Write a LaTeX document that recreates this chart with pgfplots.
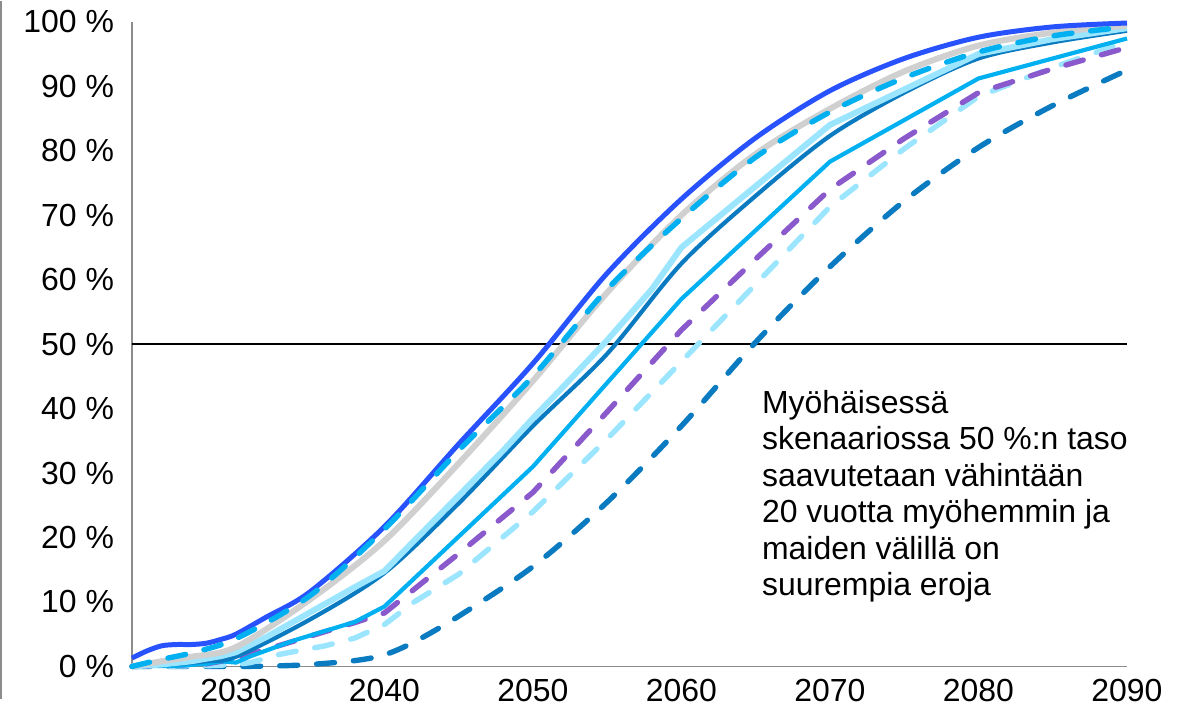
\documentclass[border=0pt]{standalone}
\usepackage{fontspec}
\setmainfont{Liberation Sans}
\usepackage{pgfplots}
\pgfplotsset{compat=1.18}
\definecolor{cBright}{HTML}{2952FF}
\definecolor{cCyan}{HTML}{00B0F0}
\definecolor{cGray}{HTML}{D0D0D0}
\definecolor{cLight}{HTML}{9BE5FF}
\definecolor{cDark}{HTML}{0A7BC0}
\definecolor{cPurple}{HTML}{8A5ACD}
\definecolor{axgray}{HTML}{8C8C8C}
\tikzset{dashline/.style={line width=2.7pt, line cap=round, dash pattern=on 9pt off 9.5pt}}
\begin{document}
\begin{tikzpicture}
\begin{axis}[
  scale only axis, width=498.5pt, height=323pt,
  xmin=2023, xmax=2090, ymin=0, ymax=100,
  axis x line=bottom, axis y line=left,
  axis line style={-, draw=axgray, line width=0.8pt},
  xtick={2030,2040,2050,2060,2070,2080,2090},
  xticklabels={2030,2040,2050,2060,2070,2080,2090},
  ytick={0,10,20,30,40,50,60,70,80,90,100},
  yticklabels={0 \%,10 \%,20 \%,30 \%,40 \%,50 \%,60 \%,70 \%,80 \%,90 \%,100 \%},
  major tick length=0pt,
  tick label style={font=\fontsize{16pt}{19pt}\selectfont, text=black},
  xticklabel style={yshift=-3pt},
  yticklabel style={xshift=-5.5pt},
  clip=false,
]
% frame line at left edge and bounding box
\draw[axgray, line width=0.8pt] (axis cs:2014.18,103.25) -- (axis cs:2014.18,-5.1);
\path (axis cs:2014.11,-6.81) rectangle (axis cs:2094.58,103.25);

% 50 % reference line
\addplot[black, line width=0.8pt] coordinates {(2023,50) (2090,50)};

% dark blue dashed
\addplot[cDark, dashline, smooth] coordinates {
(2023,0) (2030,0) (2033,0.1) (2035,0.3) (2038,0.9) (2040,1.8) (2042,3.8) (2045,7.8) (2050,15.5) (2055,25.5) (2060,37.3) (2065,50.3) (2070,62) (2075,72.2) (2080,80.5) (2085,87) (2090,92.5)};

% light blue dashed
\addplot[cLight, dashline] coordinates {
(2023,0) (2028,0.1) (2030,0.3) (2031,0.6) (2033,1.9) (2036,3.2) (2038,4.4) (2040,6.5) (2042,10) (2045,14.3) (2050,24) (2055,35.3) (2060,47.3) (2065,59.3) (2070,71.3) (2075,80.3) (2080,88.4) (2085,92.9) (2090,96.9)};

% purple dashed
\addplot[cPurple, dashline] coordinates {
(2023,0) (2025,0.1) (2028,0.4) (2030,1.2) (2033,3.3) (2036,5.4) (2038,6.8) (2040,8.3) (2045,17.5) (2050,27) (2055,39.5) (2060,52.2) (2065,63.2) (2070,74) (2075,81.9) (2080,89) (2085,92.7) (2090,96)};

% cyan solid
\addplot[cCyan, line width=2.1pt] coordinates {
(2023,0) (2026,0.1) (2028,0.4) (2029,0.8) (2030,0.6) (2031,1.6) (2034,4.1) (2038,6.9) (2040,9.3) (2050,31) (2060,57) (2070,78.3) (2080,91.2) (2090,97.4)};

% dark blue solid
\addplot[cDark, line width=2.1pt, smooth] coordinates {
(2023,0) (2025,0.2) (2028,0.8) (2030,1.5) (2035,7.3) (2040,14.5) (2045,25.3) (2050,37.3) (2055,48.5) (2060,62.5) (2065,73) (2070,82.3) (2075,89) (2080,94.3) (2085,96.8) (2090,98.6)};

% light blue solid
\addplot[cLight, line width=3pt] coordinates {
(2023,0) (2025,0.3) (2027,0.8) (2029,1.6) (2030,2.2) (2032,4.5) (2035,8.4) (2038,12.3) (2040,14.8) (2042,19.5) (2045,26.5) (2048,33.5) (2050,38.5) (2052,43.3) (2055,50.6) (2058,58.5) (2060,65) (2070,84) (2080,95) (2085,97.3) (2090,99)};

% gray solid
\addplot[cGray, line width=3pt, smooth] coordinates {
(2023,0) (2025,0.8) (2027,1.5) (2030,3.0) (2035,10.4) (2040,19.5) (2045,31.5) (2050,44.3) (2055,58) (2060,70) (2065,79.5) (2070,86.5) (2075,92.3) (2080,96.3) (2085,98.3) (2090,99.4)};

% bright blue solid
\addplot[cBright, line width=2.5pt, smooth] coordinates {
(2023,1.3) (2024,2.4) (2025,3.2) (2026,3.4) (2027,3.4) (2028,3.6) (2029,4.2) (2030,5.0) (2032,7.6) (2035,11.6) (2040,21.7) (2045,34.5) (2050,47) (2055,61) (2060,72.5) (2065,82) (2070,89.3) (2075,94.3) (2080,97.6) (2085,99.2) (2090,99.8)};

% cyan dashed
\addplot[cCyan, dashline, smooth] coordinates {
(2023,0) (2025,1.1) (2027,2.1) (2030,4.3) (2035,11) (2040,21.3) (2045,33.5) (2050,45) (2055,58.5) (2060,69.5) (2065,79) (2070,86) (2075,91.3) (2080,95.3) (2085,97.8) (2090,99.2)};

\node[anchor=north west, inner sep=0pt, align=left, font=\fontsize{16pt}{18.25pt}\selectfont] at (axis cs:2065.4,42.9)
{Myöhäisessä\\skenaariossa 50 \%:n taso\\saavutetaan vähintään\\20 vuotta myöhemmin ja\\maiden välillä on\\suurempia eroja};
\end{axis}
\end{tikzpicture}
\end{document}
